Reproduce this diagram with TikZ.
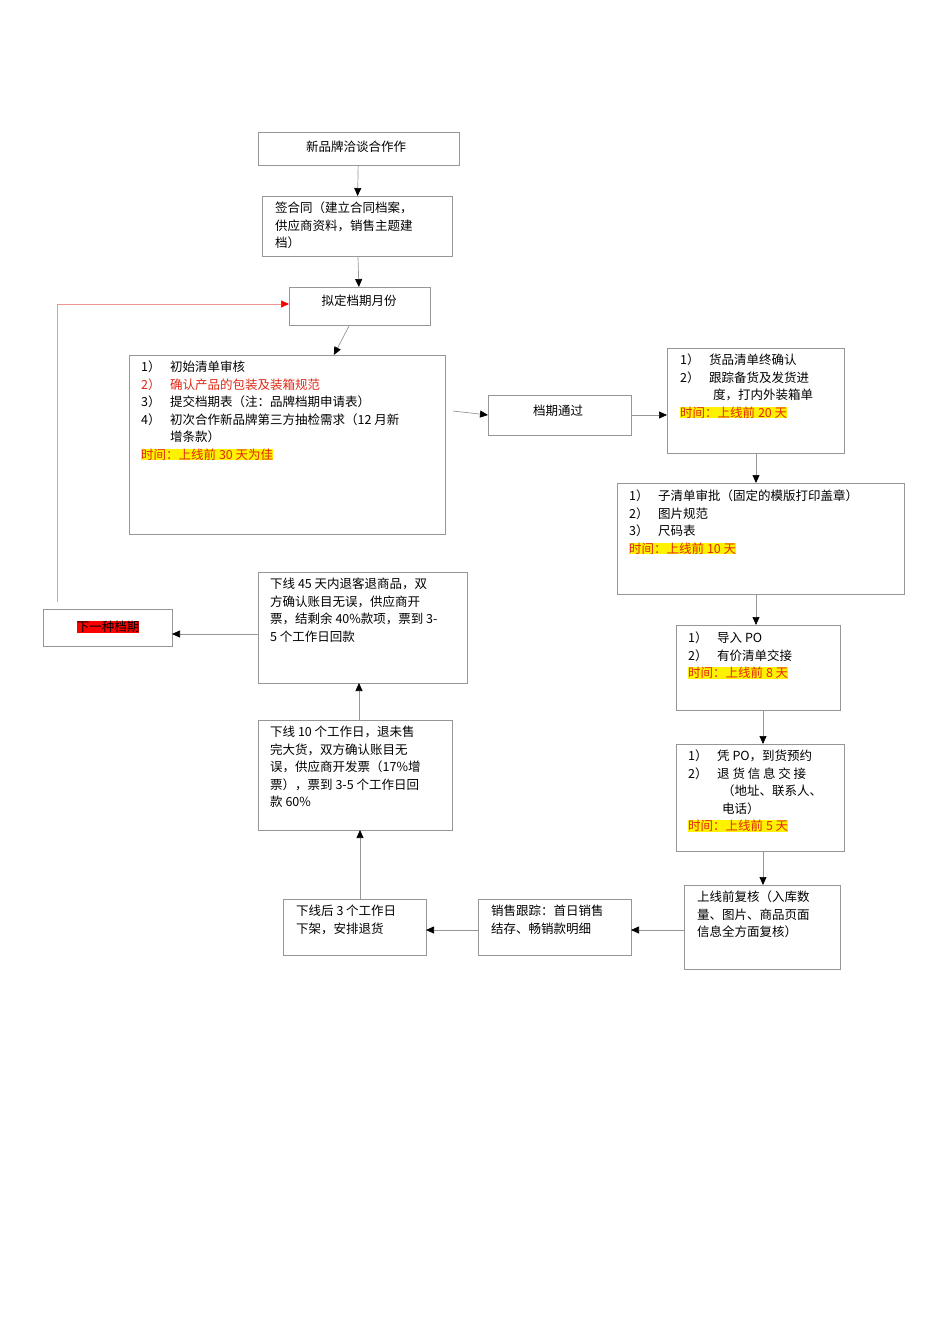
\documentclass[tikz,border=0pt]{standalone}
\usepackage{fontspec}
\setmainfont{Noto Sans CJK SC}
\usetikzlibrary{arrows.meta}
\definecolor{bd}{RGB}{150,150,150}
\definecolor{tr}{RGB}{225,40,20}
\definecolor{pinkline}{RGB}{240,150,150}
\newcommand{\hlt}[1]{{\setlength{\fboxsep}{0pt}\colorbox{yellow}{\textcolor{tr}{#1}}}}
\newcommand{\lbl}[1]{\makebox[29pt][l]{#1}}
\newcommand{\bx}[5]{\node[boxst, minimum width=#4pt-#2pt, minimum height=#5pt-#3pt] (#1) at ({(#2+#4)/2},{(#3+#5)/2}) {};}
\tikzset{
  boxst/.style={draw=bd, line width=0.8pt, inner sep=0pt, outer sep=0pt, rectangle},
  txt/.style={anchor=north west, inner sep=0pt, align=left, font=\fontsize{12.5}{17.5}\selectfont},
  ctxt/.style={inner sep=0pt, font=\fontsize{12.5}{17.5}\selectfont},
  conn/.style={draw=bd, line width=0.7pt, -{Triangle[length=8pt,width=7pt,fill=black,color=black]}},
}
\begin{document}
\begin{tikzpicture}[x=1pt,y=-1pt]
\useasboundingbox (0,0) rectangle (950,1344);
\bx{A}{258}{132}{459}{165}
\bx{B}{262}{196}{452}{256}
\bx{C}{289}{287}{430}{325}
\bx{D}{129}{355}{445}{534}
\bx{E}{488}{395}{631}{435}
\bx{F}{667}{348}{844}{453}
\bx{G}{617}{483}{904}{594}
\bx{H}{676}{625}{840}{710}
\bx{I}{676}{744}{844}{851}
\bx{J}{684}{885}{840}{969}
\bx{K}{478}{899}{631}{955}
\bx{L}{283}{899}{426}{955}
\bx{M}{258}{720}{452}{830}
\bx{N}{258}{572}{467}{683}
\bx{O}{43}{609}{172}{646}
% texts
\node[ctxt] (tA) at (356,147) {新品牌洽谈合作作};
\node[txt] (tB) at (275,202) {签合同（建立合同档案，\\供应商资料，销售主题建\\档）};
\node[ctxt] (tC) at (359,301) {拟定档期月份};
\node[txt] (tD) at (141,361) {\lbl{1）}初始清单审核\\\textcolor{tr}{\lbl{2）}确认产品的包装及装箱规范}\\\lbl{3）}提交档期表（注：品牌档期申请表）\\\lbl{4）}初次合作新品牌第三方抽检需求（12 月新\\\hspace*{29pt}增条款）\\\hlt{时间：上线前 30 天为佳}};
\node[ctxt] (tE) at (558,411) {档期通过};
\node[txt] (tF) at (680,354) {\lbl{1）}货品清单终确认\\\lbl{2）}跟踪备货及发货进\\\hspace*{33pt}度，打内外装箱单\\\hlt{时间：上线前 20 天}};
\node[txt] (tG) at (629,490) {\lbl{1）}子清单审批（固定的模版打印盖章）\\\lbl{2）}图片规范\\\lbl{3）}尺码表\\\hlt{时间：上线前 10 天}};
\node[txt] (tH) at (688,632) {\lbl{1）}导入 PO\\\lbl{2）}有价清单交接\\\hlt{时间：上线前 8 天}};
\node[txt] (tI) at (688,750) {\lbl{1）}凭 PO，到货预约\\\lbl{2）}退 货 信 息 交 接\\\hspace*{34pt}（地址、联系人、\\\hspace*{34pt}电话）\\\hlt{时间：上线前 5 天}};
\node[txt] (tJ) at (697,891) {上线前复核（入库数\\量、图片、商品页面\\信息全方面复核）};
\node[txt] (tK) at (491,905) {销售跟踪：首日销售\\结存、畅销款明细};
\node[txt] (tL) at (296,905) {下线后 3 个工作日\\下架，安排退货};
\node[txt] (tM) at (270,726) {下线 10 个工作日，退未售\\完大货，双方确认账目无\\误，供应商开发票（17\%增\\票），票到 3-5 个工作日回\\款 60\%};
\node[txt] (tN) at (270,578) {下线 45 天内退客退商品，双\\方确认账目无误，供应商开\\票，结剩余 40\%款项，票到 3-\\5 个工作日回款};
\node[ctxt] (tO) at (108,627) {{\setlength{\fboxsep}{0pt}\colorbox{red}{下一种档期}}};
% connectors
\draw[conn] (A) -- (B);
\draw[conn] (B) -- (C);
\draw[conn] (C) -- (D);
\coordinate (dE) at (453,411);
\draw[conn] (dE) -- (E.west);
\draw[conn] (E.east) -- (F.west |- E.east);
\draw[conn] (F.south -| 756,0) -- (G.north -| 756,0);
\draw[conn] (G.south -| 756,0) -- (H.north -| 756,0);
\draw[conn] (H.south -| 763,0) -- (I.north -| 763,0);
\draw[conn] (I.south -| 763,0) -- (J.north -| 763,0);
\draw[conn] (J.west |- 0,930) -- (K.east |- 0,930);
\draw[conn] (K.west |- 0,930) -- (L.east |- 0,930);
\draw[conn] (L.north -| 360,0) -- (M.south -| 360,0);
\draw[conn] (M.north -| 359,0) -- (N.south -| 359,0);
\draw[conn] (N.west |- 0,634) -- (O.east |- 0,634);
\coordinate (r1) at (57,602);
\coordinate (r2) at (57,304);
\draw[draw=pinkline, line width=0.7pt, -{Triangle[length=8pt,width=7pt,fill=red,color=red]}] (r1) -- (r2) -- (C.west |- r2);
\end{tikzpicture}
\end{document}
